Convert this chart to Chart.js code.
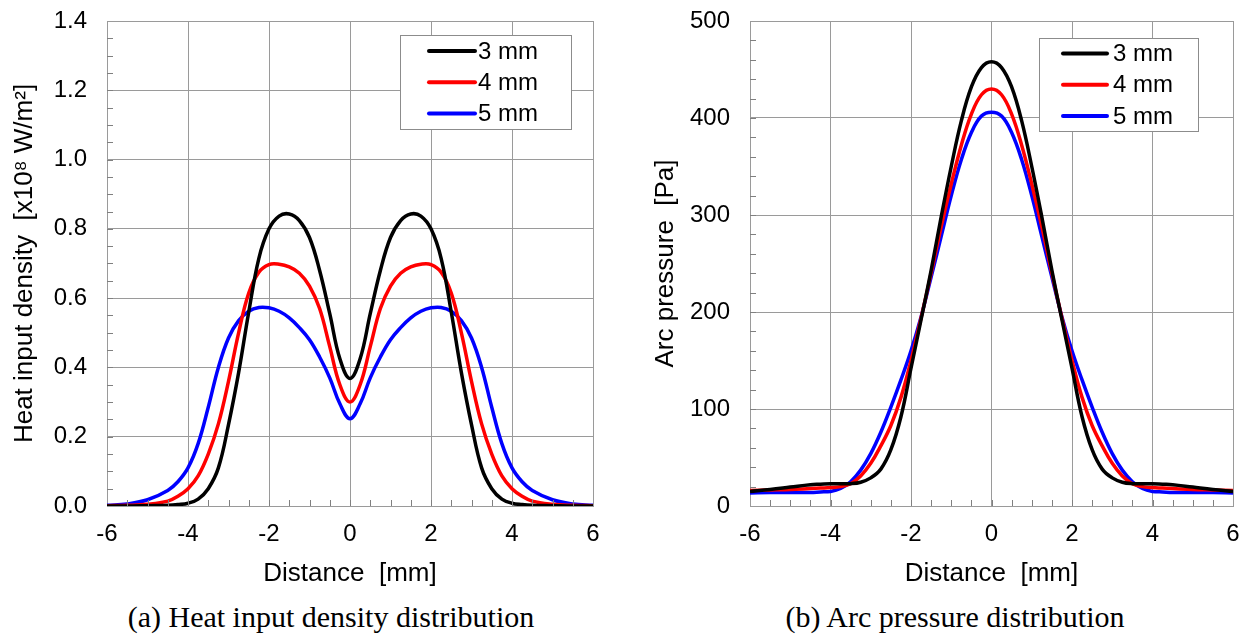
<!DOCTYPE html>
<html>
<head>
<meta charset="utf-8">
<title>Heat input density and arc pressure</title>
<script src="https://cdn.jsdelivr.net/npm/chart.js@4/dist/chart.umd.min.js"></script>
<style>
  body { margin: 0; background: #fff; width: 1251px; height: 636px; position: relative; overflow: hidden; }
  canvas { position: absolute; top: 0; }
  #chartHeat { left: 0; }
  #chartArc { left: 630px; }
  .cap { position: absolute; top: 600px; font-family: "Liberation Serif", "Times New Roman", serif; font-size: 30px; color: #000; white-space: nowrap; transform: translateX(-50%); }
</style>
</head>
<body>
<canvas id="chartHeat" width="625" height="600"></canvas>
<canvas id="chartArc" width="621" height="600"></canvas>
<div class="cap" style="left:331px">(a) Heat input density distribution</div>
<div class="cap" style="left:955px">(b) Arc pressure distribution</div>

<script>
// distance from the arc axis [mm]
const distance = [-6, -5.5, -5, -4.5, -4.25, -4, -3.75, -3.5, -3.25, -3, -2.75, -2.5, -2.25, -2, -1.75, -1.5, -1.25, -1, -0.75, -0.5, -0.25,
  0, 0.25, 0.5, 0.75, 1, 1.25, 1.5, 1.75, 2, 2.25, 2.5, 2.75, 3, 3.25, 3.5, 3.75, 4, 4.25, 4.5, 5, 5.5, 6];

const seriesLabels = ["3 mm", "4 mm", "5 mm"];
const seriesColors = ["#000000", "#ff0000", "#0000ff"];

// heat input density [x10^8 W/m^2]
const heat3 = [0, 0, 0.001, 0.002, 0.004, 0.008, 0.02, 0.05, 0.11, 0.235, 0.385, 0.56, 0.715, 0.80, 0.837, 0.843, 0.824, 0.775, 0.68, 0.555, 0.425,
  0.368, 0.425, 0.555, 0.68, 0.775, 0.824, 0.843, 0.837, 0.80, 0.715, 0.56, 0.385, 0.235, 0.11, 0.05, 0.02, 0.008, 0.004, 0.002, 0.001, 0, 0];
const heat4 = [0.001, 0.002, 0.005, 0.014, 0.028, 0.05, 0.087, 0.15, 0.237, 0.36, 0.50, 0.615, 0.675, 0.697, 0.698, 0.69, 0.672, 0.635, 0.57, 0.46, 0.35,
  0.30, 0.35, 0.46, 0.57, 0.635, 0.672, 0.69, 0.698, 0.697, 0.675, 0.615, 0.50, 0.36, 0.237, 0.15, 0.087, 0.05, 0.028, 0.014, 0.005, 0.002, 0.001];
const heat5 = [0.002, 0.006, 0.018, 0.045, 0.07, 0.11, 0.18, 0.285, 0.40, 0.485, 0.535, 0.562, 0.573, 0.572, 0.562, 0.543, 0.515, 0.48, 0.43, 0.37, 0.295,
  0.252, 0.295, 0.37, 0.43, 0.48, 0.515, 0.543, 0.562, 0.572, 0.573, 0.562, 0.535, 0.485, 0.40, 0.285, 0.18, 0.11, 0.07, 0.045, 0.018, 0.006, 0.002];

// arc pressure [Pa]
const arc3 = [15, 17, 19.5, 22, 22.5, 23, 23, 23, 24.5, 29, 38, 58, 92, 142, 192, 243, 298, 350, 397, 432, 452,
  458, 452, 432, 397, 350, 298, 243, 192, 142, 92, 58, 38, 29, 24.5, 23, 23, 23, 22.5, 22, 19.5, 17, 15];
const arc4 = [16, 16.5, 17, 18, 18.5, 19, 20, 23, 31, 44, 62, 83, 112, 150, 194, 240, 288, 332, 372, 404, 424,
  430, 424, 404, 372, 332, 288, 240, 194, 150, 112, 83, 62, 44, 31, 23, 20, 19, 18.5, 18, 17, 16.5, 16];
const arc5 = [13.5, 14, 14, 14, 14.5, 15, 18, 25, 37, 54, 76, 102, 130, 160, 195, 236, 278, 320, 357, 385, 402,
  406, 402, 385, 357, 320, 278, 236, 195, 160, 130, 102, 76, 54, 37, 25, 18, 15, 14.5, 14, 14, 14, 13.5];

const xTicks = [-6, -4, -2, 0, 2, 4, 6];

const GRID = "#9a9a9a";
const SANS = "'Liberation Sans', Arial, sans-serif";

// short inner tick marks between the major grid lines
const minorTicks = {
  id: "minorTicks",
  afterDraw(chart) {
    const o = chart.config.options.minor;
    const { ctx, chartArea: a } = chart;
    const x = chart.scales.x, y = chart.scales.y;
    ctx.save();
    ctx.strokeStyle = "#808080";
    ctx.lineWidth = 1;
    ctx.beginPath();
    const nx = Math.round((x.max - x.min) / o.xStep);
    for (let i = 1; i < nx; i++) {
      const px = Math.round(x.getPixelForValue(x.min + i * o.xStep)) + 0.5;
      ctx.moveTo(px, a.bottom);
      ctx.lineTo(px, a.bottom - o.len);
    }
    const ny = Math.round((y.max - y.min) / o.yStep);
    for (let i = 1; i < ny; i++) {
      const py = Math.round(y.getPixelForValue(y.min + i * o.yStep)) + 0.5;
      ctx.moveTo(a.left, py);
      ctx.lineTo(a.left + o.len, py);
    }
    ctx.stroke();
    ctx.restore();
  }
};

// boxed legend sitting inside the plot, top right
const boxLegend = {
  id: "boxLegend",
  afterDraw(chart) {
    const o = chart.config.options.box;
    const { ctx, chartArea: a } = chart;
    const left = Math.round(a.right - o.right - o.width);
    const top = Math.round(a.top + o.top);
    ctx.save();
    ctx.fillStyle = "#fff";
    ctx.fillRect(left, top, o.width, o.height);
    ctx.strokeStyle = "#8c8c8c";
    ctx.lineWidth = 1;
    ctx.strokeRect(left + 0.5, top + 0.5, o.width, o.height);
    ctx.font = "24px " + SANS;
    ctx.textBaseline = "middle";
    chart.data.datasets.forEach((ds, i) => {
      const yy = top + o.first + i * o.gap;
      ctx.strokeStyle = ds.borderColor;
      ctx.lineWidth = 4;
      ctx.lineCap = "round";
      ctx.beginPath();
      ctx.moveTo(left + o.lineStart, yy);
      ctx.lineTo(left + o.lineStart + o.lineLen, yy);
      ctx.stroke();
      ctx.fillStyle = "#000";
      ctx.fillText(ds.label, left + o.textStart, yy + 1);
    });
    ctx.restore();
  }
};

function makeDatasets(values) {
  return values.map((arr, i) => ({
    label: seriesLabels[i],
    data: distance.map((d, j) => ({ x: d, y: arr[j] })),
    borderColor: seriesColors[i],
    backgroundColor: seriesColors[i],
    borderWidth: 3.5,
    pointRadius: 0,
    tension: 0.4,
    fill: false
  }));
}

function makeChart(id, values, y, pad, legend) {
  return new Chart(document.getElementById(id), {
    type: "line",
    data: { datasets: makeDatasets(values) },
    options: {
      responsive: false,
      animation: false,
      minor: { xStep: 0.5, yStep: y.minor, len: 6 },
      box: legend,
      layout: { padding: { left: pad.left, right: pad.right, top: 21, bottom: 0 } },
      plugins: {
        legend: { display: false },
        tooltip: { enabled: false }
      },
      scales: {
        x: {
          type: "linear",
          min: -6, max: 6,
          afterBuildTicks: s => { s.ticks = xTicks.map(v => ({ value: v })); },
          afterFit: s => { s.height = 94; s.paddingLeft = 0; s.paddingRight = 0; },
          grid: { color: GRID, lineWidth: 1, drawTicks: false },
          border: { color: GRID, width: 1 },
          ticks: { padding: 14, color: "#000", font: { family: SANS, size: 24 } },
          title: { display: true, text: "Distance  [mm]", color: "#000", padding: { top: 0, bottom: 11 }, font: { family: SANS, size: 26 } }
        },
        y: {
          min: 0, max: y.max,
          afterBuildTicks: s => { s.ticks = y.ticks.map(v => ({ value: v })); },
          afterFit: s => { s.width = pad.yWidth; s.paddingTop = 0; s.paddingBottom = 0; },
          grid: { color: GRID, lineWidth: 1, drawTicks: false },
          border: { color: GRID, width: 1 },
          ticks: { padding: 20, color: "#000", font: { family: SANS, size: 24 }, callback: y.fmt },
          title: { display: true, text: y.title, color: "#000", padding: { top: 0, bottom: 0 }, font: { family: SANS, size: 26 } }
        }
      }
    },
    plugins: [minorTicks, boxLegend]
  });
}

makeChart("chartHeat", [heat3, heat4, heat5],
  { max: 1.4, minor: 0.05, ticks: [0, 0.2, 0.4, 0.6, 0.8, 1.0, 1.2, 1.4], fmt: v => v.toFixed(1), title: "Heat input density  [x10⁸ W/m²]" },
  { left: 9, right: 32, yWidth: 98 },
  { right: 22, top: 14, width: 171, height: 94, first: 16, gap: 31.3, lineStart: 29, lineLen: 46, textStart: 78 });

makeChart("chartArc", [arc3, arc4, arc5],
  { max: 500, minor: 20, ticks: [0, 100, 200, 300, 400, 500], fmt: v => String(v), title: "Arc pressure  [Pa]" },
  { left: 20, right: 18, yWidth: 100 },
  { right: 35, top: 17, width: 159, height: 93, first: 15.5, gap: 31.2, lineStart: 24, lineLen: 44, textStart: 74 });
</script>
</body>
</html>
